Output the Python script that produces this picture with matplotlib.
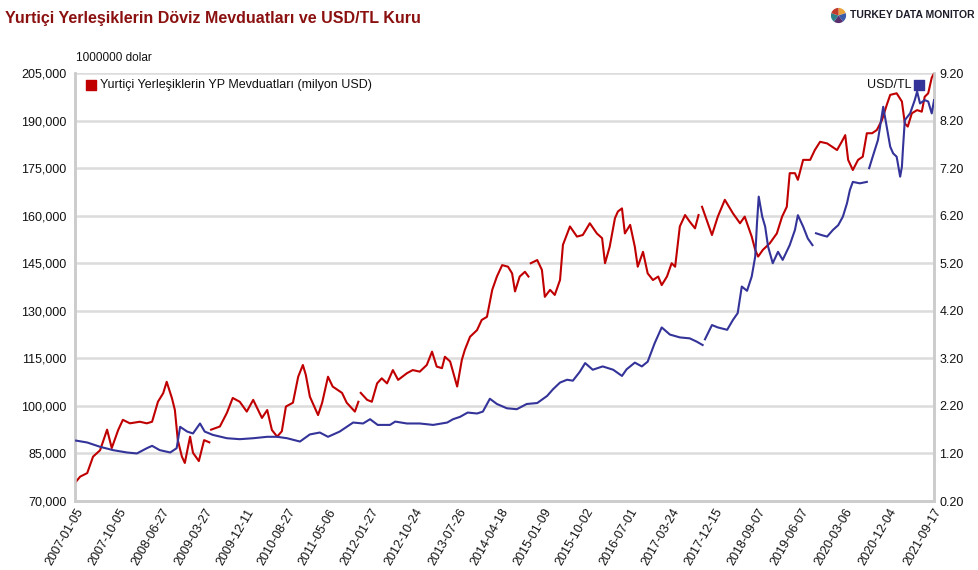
import datetime as dt
import numpy as np
import matplotlib
matplotlib.use("Agg")
import matplotlib.pyplot as plt
from matplotlib.ticker import FixedLocator, FuncFormatter

plt.rcParams['font.family'] = ['Liberation Sans', 'DejaVu Sans']

# ---------------- texts ----------------
title = "Yurtiçi Yerleşiklerin Döviz Mevduatları ve USD/TL Kuru"
deposit_label = "Yurtiçi Yerleşiklerin YP Mevduatları (milyon USD)"
fx_label = "USD/TL"
unit_label = "1000000 dolar"
brand = "TURKEY DATA MONITOR"

# ---------------- category tick labels ----------------
tick_dates = ["2007-01-05", "2007-10-05", "2008-06-27", "2009-03-27", "2009-12-11",
              "2010-08-27", "2011-05-06", "2012-01-27", "2012-10-24", "2013-07-26",
              "2014-04-18", "2015-01-09", "2015-10-02", "2016-07-01", "2017-03-24",
              "2017-12-15", "2018-09-07", "2019-06-07", "2020-03-06", "2020-12-04",
              "2021-09-17"]

left_ticks = [70000, 85000, 100000, 115000, 130000, 145000, 160000, 175000, 190000, 205000]
right_ticks = [0.2, 1.2, 2.2, 3.2, 4.2, 5.2, 6.2, 7.2, 8.2, 9.2]

NaN = float('nan')

# ---------------- deposits (million USD), time in decimal years ----------------
dep_time = [2007.01, 2007.10, 2007.22, 2007.32, 2007.44, 2007.56, 2007.64, 2007.75, 2007.83, 2007.95,
            2008.12, 2008.24, 2008.33, 2008.43, 2008.52, 2008.58, 2008.67, 2008.72, 2008.77, 2008.84,
            2008.89, 2008.98, 2009.03, 2009.13, 2009.22, 2009.31, 2009.33, 2009.34, 2009.49, 2009.61,
            2009.71, 2009.83, 2009.95, 2010.06, 2010.21, 2010.30, 2010.38, 2010.47, 2010.55, 2010.62,
            2010.74, 2010.83, 2010.91, 2010.96, 2011.03, 2011.17, 2011.24, 2011.34, 2011.42, 2011.58,
            2011.66, 2011.80, 2011.86, 2011.88, 2011.90, 2012.01, 2012.09, 2012.18, 2012.26, 2012.35,
            2012.45, 2012.54, 2012.69, 2012.79, 2012.91, 2013.03, 2013.12, 2013.20, 2013.29, 2013.34,
            2013.43, 2013.55, 2013.63, 2013.68, 2013.77, 2013.89, 2013.97, 2014.06, 2014.15, 2014.23,
            2014.32, 2014.42, 2014.49, 2014.54, 2014.62, 2014.71, 2014.77, 2014.79, 2014.81, 2014.92,
            2015.00, 2015.05, 2015.14, 2015.22, 2015.31, 2015.36, 2015.48, 2015.60, 2015.70, 2015.82,
            2015.94, 2016.03, 2016.08, 2016.16, 2016.25, 2016.30, 2016.37, 2016.42, 2016.51, 2016.59,
            2016.64, 2016.73, 2016.81, 2016.90, 2016.99, 2017.05, 2017.14, 2017.22, 2017.28, 2017.36,
            2017.45, 2017.53, 2017.62, 2017.68, 2017.71, 2017.74, 2017.82, 2017.91, 2018.01, 2018.13,
            2018.27, 2018.39, 2018.47, 2018.59, 2018.65, 2018.70, 2018.78, 2018.90, 2019.02, 2019.11,
            2019.19, 2019.24, 2019.33, 2019.38, 2019.47, 2019.59, 2019.67, 2019.76, 2019.88, 2019.96,
            2020.05, 2020.13, 2020.19, 2020.24, 2020.32, 2020.41, 2020.49, 2020.56, 2020.65, 2020.73,
            2020.82, 2020.90, 2020.96, 2021.07, 2021.16, 2021.21, 2021.26, 2021.33, 2021.42, 2021.50,
            2021.55, 2021.61, 2021.67, 2021.71]
dep_value = [75700, 77700, 78800, 84000, 86000, 92500, 86700, 92400, 95600, 94500,
             95000, 94500, 95000, 101300, 104000, 107600, 102400, 98700, 89200, 84000,
             82000, 90300, 85200, 82600, 89200, 88500, NaN, 92500, 93500, 97800,
             102500, 101300, 98200, 101900, 96200, 98700, 92400, 90300, 92000, 99800,
             101000, 109200, 112900, 109800, 102900, 97100, 101000, 109200, 106100, 104100,
             101000, 98200, 101300, NaN, 104100, 101900, 101300, 107100, 108700, 107100,
             111300, 108200, 110300, 111300, 110800, 112900, 117100, 112400, 111900, 115500,
             114000, 106100, 114500, 117600, 121800, 123900, 127100, 128100, 136600, 140800,
             144400, 143900, 141800, 136100, 140800, 142300, 140800, NaN, 145000, 146000,
             142900, 134400, 136600, 135000, 139700, 150800, 156600, 153400, 153900, 157600,
             154400, 152900, 145000, 150200, 159200, 161300, 162300, 154400, 157100, 150200,
             143900, 148600, 141800, 139700, 140800, 138100, 140800, 145000, 143900, 156600,
             160200, 158100, 156000, 160200, NaN, 162800, 158600, 153900, 159700, 165000,
             160700, 157600, 159700, 153400, 149200, 147100, 149200, 151300, 154400, 159700,
             162800, 173400, 173400, 171300, 177600, 177600, 180700, 183300, 182800, 181800,
             180700, 183300, 185400, 177600, 174400, 177600, 178600, 186000, 186000, 187000,
             190200, 194900, 198100, 198600, 196000, 189100, 188100, 192300, 193300, 192800,
             197500, 198600, 203500, 204900]

# ---------------- USD/TL, time in decimal years ----------------
fx_time = [2007.03, 2007.22, 2007.44, 2007.66, 2007.90, 2008.07, 2008.24, 2008.33, 2008.46, 2008.64,
           2008.75, 2008.81, 2008.93, 2009.03, 2009.15, 2009.23, 2009.37, 2009.61, 2009.83, 2010.06,
           2010.30, 2010.47, 2010.64, 2010.86, 2011.03, 2011.20, 2011.34, 2011.54, 2011.77, 2011.94,
           2012.06, 2012.19, 2012.40, 2012.49, 2012.69, 2012.91, 2013.14, 2013.38, 2013.48, 2013.60,
           2013.73, 2013.89, 2013.99, 2014.11, 2014.23, 2014.40, 2014.57, 2014.74, 2014.92, 2015.09,
           2015.19, 2015.31, 2015.43, 2015.53, 2015.65, 2015.74, 2015.87, 2016.04, 2016.22, 2016.37,
           2016.45, 2016.59, 2016.71, 2016.81, 2016.93, 2017.05, 2017.19, 2017.36, 2017.53, 2017.65,
           2017.75, 2017.77, 2017.79, 2017.91, 2018.01, 2018.17, 2018.27, 2018.35, 2018.42, 2018.51,
           2018.59, 2018.65, 2018.68, 2018.71, 2018.77, 2018.82, 2018.87, 2018.95, 2019.04, 2019.12,
           2019.24, 2019.33, 2019.38, 2019.47, 2019.55, 2019.63, 2019.66, 2019.69, 2019.79, 2019.88,
           2019.98, 2020.07, 2020.15, 2020.22, 2020.27, 2020.32, 2020.44, 2020.56, 2020.58, 2020.60,
           2020.66, 2020.75, 2020.84, 2020.90, 2020.96, 2021.01, 2021.07, 2021.13, 2021.16, 2021.18,
           2021.21, 2021.30, 2021.38, 2021.42, 2021.47, 2021.55, 2021.61, 2021.67, 2021.71]
fx_value = [1.47, 1.43, 1.34, 1.27, 1.22, 1.20, 1.31, 1.36, 1.27, 1.22,
            1.31, 1.76, 1.66, 1.62, 1.83, 1.66, 1.59, 1.52, 1.50, 1.52,
            1.55, 1.55, 1.52, 1.45, 1.60, 1.64, 1.55, 1.66, 1.85, 1.83,
            1.92, 1.80, 1.80, 1.87, 1.83, 1.83, 1.80, 1.85, 1.92, 1.97,
            2.06, 2.04, 2.08, 2.35, 2.24, 2.15, 2.13, 2.24, 2.26, 2.41,
            2.55, 2.69, 2.75, 2.73, 2.92, 3.10, 2.96, 3.03, 2.96, 2.83,
            2.97, 3.11, 3.03, 3.13, 3.52, 3.85, 3.70, 3.64, 3.62, 3.55,
            3.48, NaN, 3.60, 3.90, 3.85, 3.80, 4.01, 4.15, 4.71, 4.62,
            4.92, 5.34, 6.04, 6.60, 6.18, 5.97, 5.55, 5.20, 5.44, 5.27,
            5.58, 5.90, 6.21, 5.97, 5.72, 5.58, NaN, 5.83, 5.79, 5.76,
            5.90, 6.00, 6.18, 6.46, 6.74, 6.91, 6.88, 6.91, NaN, 7.20,
            7.44, 7.79, 8.49, 8.07, 7.65, 7.51, 7.44, 7.02, 7.23, 7.65,
            8.21, 8.35, 8.63, 8.81, 8.56, 8.63, 8.60, 8.35, 8.63]

logo_slices = [1, 1, 1, 1, 1]
logo_colors = ['#e8a33a', '#3b5bab', '#5a2d6e', '#2f7f8a', '#c0392b']

RED = '#c00000'
BLUE = '#333399'
GRID = '#dcdcdc'


def decimal_year(s):
    d = dt.date.fromisoformat(s)
    return d.year + (d - dt.date(d.year, 1, 1)).days / 365.25


tick_pos = [decimal_year(s) for s in tick_dates]

fig = plt.figure(figsize=(9.79, 5.70), dpi=100)
ax = fig.add_axes([75 / 979, 1 - 501 / 570, 859 / 979, 428 / 570])
ax2 = ax.twinx()

ax.set_xlim(tick_pos[0], tick_pos[-1])
ax.set_ylim(left_ticks[0], left_ticks[-1])
ax2.set_ylim(right_ticks[0], right_ticks[-1])

ax.yaxis.set_major_locator(FixedLocator(left_ticks))
ax.yaxis.set_major_formatter(FuncFormatter(lambda v, p: f"{v:,.0f}"))
ax2.yaxis.set_major_locator(FixedLocator(right_ticks))
ax2.yaxis.set_major_formatter(FuncFormatter(lambda v, p: f"{v:.2f}"))
ax.xaxis.set_major_locator(FixedLocator(tick_pos))
ax.set_xticklabels(tick_dates, rotation=60, ha='right', va='top', rotation_mode='anchor')

ax.yaxis.grid(True, color=GRID, lw=1.8)
ax.set_axisbelow(True)
for a in (ax, ax2):
    a.spines['top'].set_visible(False)
    for side in ('left', 'bottom', 'right'):
        a.spines[side].set_color('#cccccc')
        a.spines[side].set_linewidth(1.8)
    a.tick_params(length=0, labelsize=9, colors='#111111')
ax.tick_params(axis='y', pad=6)
ax2.tick_params(axis='y', pad=4)
ax.tick_params(axis='x', pad=4, labelsize=9)

ax.plot(dep_time, dep_value, color=RED, lw=1.5, zorder=3)
ax2.plot(fx_time, fx_value, color=BLUE, lw=1.5, zorder=3)

# legends
ax.scatter([0.0186], [0.972], marker='s', s=55, color=RED, transform=ax.transAxes, clip_on=False, zorder=5)
ax.text(0.029, 0.972, deposit_label, transform=ax.transAxes, fontsize=9, va='center', ha='left', color='#111111')
ax.scatter([0.9825], [0.972], marker='s', s=55, color=BLUE, transform=ax.transAxes, clip_on=False, zorder=5)
ax.text(0.974, 0.972, fx_label, transform=ax.transAxes, fontsize=9, va='center', ha='right', color='#111111')

# titles
fig.text(5 / 979, 1 - 18 / 570, title, fontsize=11.5, fontweight='bold', color='#8b1010', va='center', ha='left')
fig.text(76 / 979, 1 - 58 / 570, unit_label, fontsize=8.5, color='#111111', va='center', ha='left')

# brand logo
lax = fig.add_axes([829 / 979, 1 - 25 / 570, 19 / 979, 19 / 570])
lax.pie(logo_slices, colors=logo_colors, startangle=90, counterclock=False)
lax.set_aspect('equal')
lax.axis('off')
fig.text(850 / 979, 1 - 15 / 570, brand, fontsize=7.5, fontweight='bold', color='#1c1c2a', va='center', ha='left')

fig.savefig('out.png', dpi=100)
